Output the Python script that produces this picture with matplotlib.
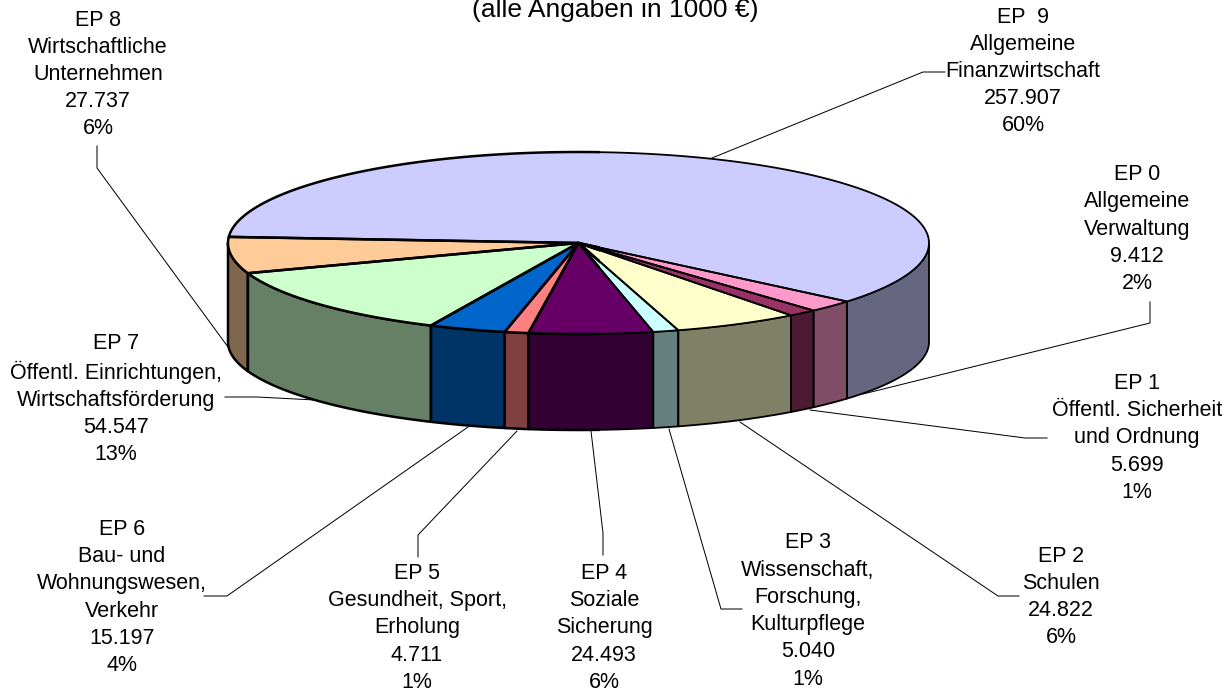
import numpy as np
import matplotlib
matplotlib.use("Agg")
import matplotlib.pyplot as plt
from matplotlib.patches import Polygon, Rectangle

# ---- data ----
codes = ["EP 0", "EP 1", "EP 2", "EP 3", "EP 4", "EP 5", "EP 6", "EP 7", "EP 8", "EP  9"]
names = ["Allgemeine\nVerwaltung", "Öffentl. Sicherheit\nund Ordnung", "Schulen",
         "Wissenschaft,\nForschung,\nKulturpflege", "Soziale\nSicherung",
         "Gesundheit, Sport,\nErholung", "Bau- und\nWohnungswesen,\nVerkehr",
         "Öffentl. Einrichtungen,\nWirtschaftsförderung", "Wirtschaftliche\nUnternehmen",
         "Allgemeine\nFinanzwirtschaft"]
values = [9412, 5699, 24822, 5040, 24493, 4711, 15197, 54547, 27737, 257907]
value_labels = ["9.412", "5.699", "24.822", "5.040", "24.493", "4.711", "15.197", "54.547", "27.737", "257.907"]
pct_labels = ["2%", "1%", "6%", "1%", "6%", "1%", "4%", "13%", "6%", "60%"]
top_colors = ["#FF99CC", "#993366", "#FFFFCC", "#CCFFFF", "#660066", "#FF8080", "#0066CC", "#CCFFCC", "#FFCC99", "#CCCCFF"]
side_colors = ["#804D66", "#4D1A33", "#808066", "#668080", "#330033", "#804040", "#003366", "#668066", "#80664D", "#666680"]
title = "(alle Angaben in 1000 €)"

# ---- layout (pixels) ----
label_pos = [(1137, 229), (1137, 438), (1061, 597), (808, 611), (604, 628),
             (417, 628), (122, 597.5), (116, 399), (98, 74.5), (1023, 71.5)]
leaders = [
    [(1150, 302), (1150, 323), (863, 394)],
    [(1047, 438), (1025, 438), (810, 410)],
    [(1019, 596), (998, 596), (740, 422)],
    [(742, 609), (721, 609), (669, 429)],
    [(603, 555), (603, 533), (591, 431)],
    [(418, 557), (418, 535), (517, 431)],
    [(204, 596), (227, 596), (468, 427)],
    [(225, 397), (257, 397), (315, 400)],
    [(97, 146), (97, 168), (228, 347)],
    [(945, 72), (923, 72), (712, 158)],
]
cx, cy, rx, ry_top, depth, ry_bot = 578.5, 243, 350.5, 91, 99, 88
start_deg = 40
split_x = 600
lw_left, lw_right = 1.8, 1.3

plt.rcParams["font.family"] = ["Liberation Sans", "DejaVu Sans"]
fig = plt.figure(figsize=(12.31, 6.92), dpi=100)
ax = fig.add_axes([0, 0, 1, 1])
ax.set_xlim(0, 1231)
ax.set_ylim(692, 0)
ax.axis("off")

def top_pt(t):
    t = np.radians(t)
    return cx + rx * np.cos(t), cy + ry_top * np.sin(t)

def bot_pt(t):
    t = np.radians(t)
    return cx + rx * np.cos(t), cy + depth + ry_bot * np.sin(t)

def outlined(poly_xy, face, z):
    ax.add_patch(Polygon(poly_xy, closed=True, facecolor=face, edgecolor="none", zorder=z))
    for lw, box in ((lw_left, (0, 0, split_x, 692)), (lw_right, (split_x, 0, 1231 - split_x, 692))):
        p = Polygon(poly_xy, closed=True, facecolor="none", edgecolor="black",
                    linewidth=lw, joinstyle="round", zorder=z + 0.5)
        ax.add_patch(p)
        p.set_clip_path(Rectangle(box[:2], box[2], box[3], transform=ax.transData))

# leaders under pie
for pts in leaders:
    xs, ys = zip(*pts)
    ax.plot(xs, ys, color="black", lw=0.72, zorder=1, solid_joinstyle="miter")

shares = np.array(values, float) / sum(values) * 360
edges = start_deg + np.concatenate([[0], np.cumsum(shares)])

# walls: only the visible (front) part
for i in range(len(values)):
    a, b = edges[i], edges[i + 1]
    for off in (0, -360):
        lo, hi = max(a + off, 0), min(b + off, 180)
        if hi > lo:
            ts = np.linspace(lo, hi, 80)
            tx, ty = top_pt(ts)
            bx, by = bot_pt(ts[::-1])
            outlined(np.column_stack([np.r_[tx, bx], np.r_[ty, by]]), side_colors[i], 3)

# top wedges
for i in range(len(values)):
    ts = np.linspace(edges[i], edges[i + 1], 300)
    tx, ty = top_pt(ts)
    outlined(np.column_stack([np.r_[cx, tx], np.r_[cy, ty]]), top_colors[i], 5)

# labels
for i, (x, y) in enumerate(label_pos):
    s = "\n".join([codes[i], names[i], value_labels[i], pct_labels[i]])
    ax.text(x, y, s, ha="center", va="center", ma="center", fontsize=15.5,
            linespacing=1.39, color="black", zorder=8, clip_on=False)

ax.text(615, 17, title, ha="center", va="baseline", fontsize=19, color="black", zorder=8)

fig.savefig("out.png", dpi=100, facecolor="white")
